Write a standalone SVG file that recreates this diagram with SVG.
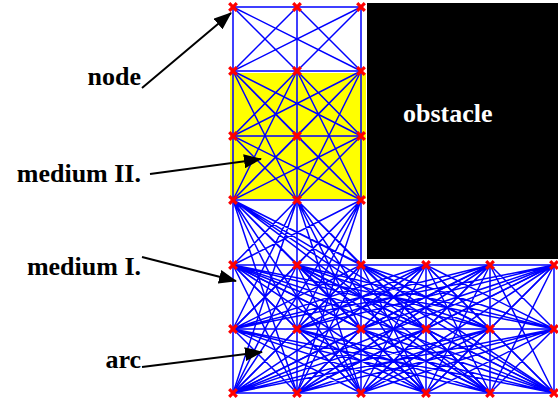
<svg xmlns="http://www.w3.org/2000/svg" xmlns:xlink="http://www.w3.org/1999/xlink" width="558" height="403" viewBox="0 0 558 403">
<style>
.edge{fill:none;stroke:#0000ff;stroke-width:1.5}
.mk{fill:none;stroke:#ff0000;stroke-width:3.2}
.lbl{font-family:'Liberation Serif','Times New Roman',serif;font-weight:bold;font-size:26px;fill:#000}
.arrow{fill:none;stroke:#000;stroke-width:2}
</style>
<defs>
<path id="x" class="mk" d="M-3.8 -3.8L3.8 3.8M3.8 -3.8L-3.8 3.8"/>
<marker id="ah" markerUnits="userSpaceOnUse" markerWidth="18" markerHeight="14" refX="17" refY="7" orient="auto">
<path d="M0 0L18 7L0 14z" fill="#000"/>
</marker>
</defs>
<rect width="558" height="403" fill="#fff"/>
<g id="mediumII-area"><rect x="230" y="73" width="136" height="126" fill="#ffff00"/></g>
<g id="obstacle"><rect x="367" y="3" width="191" height="256" fill="#000"/></g>
<g id="connectors">
<path class="edge" d="M233 7V393M297 7V393M361 7V393M426 265V393M490 265V393M554 265V393M233 7H361M233 71H361M233 136H361M233 200H361M233 265H554M233 329H554M233 393H554"/>
<path class="edge" d="M233 7 297 71M233 7 361 71M297 7 233 71M297 7 361 71M361 7 233 71M361 7 297 71"/>
<path class="edge" d="M233 71 297 136M233 71 361 136M297 71 233 136M297 71 361 136M361 71 233 136M361 71 297 136M233 71 297 200M233 71 361 200M297 71 233 200M297 71 361 200M361 71 233 200M361 71 297 200M233 136 297 200M233 136 361 200M297 136 233 200M297 136 361 200M361 136 233 200M361 136 297 200"/>
<path class="edge" d="M233 200 297 265M233 200 361 265M233 200 297 329M233 200 361 329M233 200 426 329M233 200 490 329M233 200 297 393M233 200 361 393M233 200 426 393M233 200 490 393M233 200 554 393M297 200 233 265M297 200 361 265M297 200 233 329M297 200 361 329M297 200 426 329M297 200 233 393M297 200 361 393M297 200 426 393M297 200 490 393M361 200 233 265M361 200 297 265M361 200 233 329M361 200 297 329M361 200 233 393M361 200 297 393"/>
<path class="edge" d="M233 265 297 329M233 265 361 329M233 265 426 329M233 265 490 329M233 265 554 329M297 265 233 329M297 265 361 329M297 265 426 329M297 265 490 329M297 265 554 329M361 265 233 329M361 265 297 329M361 265 426 329M361 265 490 329M361 265 554 329M426 265 233 329M426 265 297 329M426 265 361 329M426 265 490 329M426 265 554 329M490 265 233 329M490 265 297 329M490 265 361 329M490 265 426 329M490 265 554 329M554 265 233 329M554 265 297 329M554 265 361 329M554 265 426 329M554 265 490 329"/>
<path class="edge" d="M233 265 297 393M233 265 361 393M233 265 426 393M233 265 490 393M233 265 554 393M297 265 233 393M297 265 361 393M297 265 426 393M297 265 490 393M297 265 554 393M361 265 233 393M361 265 297 393M361 265 426 393M361 265 490 393M361 265 554 393M426 265 233 393M426 265 297 393M426 265 361 393M426 265 490 393M426 265 554 393M490 265 233 393M490 265 297 393M490 265 361 393M490 265 426 393M490 265 554 393M554 265 233 393M554 265 297 393M554 265 361 393M554 265 426 393M554 265 490 393"/>
<path class="edge" d="M233 329 297 393M233 329 361 393M233 329 426 393M233 329 490 393M233 329 554 393M297 329 233 393M297 329 361 393M297 329 426 393M297 329 490 393M297 329 554 393M361 329 233 393M361 329 297 393M361 329 426 393M361 329 490 393M361 329 554 393M426 329 233 393M426 329 297 393M426 329 361 393M426 329 490 393M426 329 554 393M490 329 233 393M490 329 297 393M490 329 361 393M490 329 426 393M490 329 554 393M554 329 233 393M554 329 297 393M554 329 361 393M554 329 426 393M554 329 490 393"/>
</g>
<g id="nodes">
<g id="n0-0"><use xlink:href="#x" x="233" y="7"/></g>
<g id="n0-1"><use xlink:href="#x" x="297" y="7"/></g>
<g id="n0-2"><use xlink:href="#x" x="361" y="7"/></g>
<g id="n1-0"><use xlink:href="#x" x="233" y="71"/></g>
<g id="n1-1"><use xlink:href="#x" x="297" y="71"/></g>
<g id="n1-2"><use xlink:href="#x" x="361" y="71"/></g>
<g id="n2-0"><use xlink:href="#x" x="233" y="136"/></g>
<g id="n2-1"><use xlink:href="#x" x="297" y="136"/></g>
<g id="n2-2"><use xlink:href="#x" x="361" y="136"/></g>
<g id="n3-0"><use xlink:href="#x" x="233" y="200"/></g>
<g id="n3-1"><use xlink:href="#x" x="297" y="200"/></g>
<g id="n3-2"><use xlink:href="#x" x="361" y="200"/></g>
<g id="n4-0"><use xlink:href="#x" x="233" y="265"/></g>
<g id="n4-1"><use xlink:href="#x" x="297" y="265"/></g>
<g id="n4-2"><use xlink:href="#x" x="361" y="265"/></g>
<g id="n4-3"><use xlink:href="#x" x="426" y="265"/></g>
<g id="n4-4"><use xlink:href="#x" x="490" y="265"/></g>
<g id="n4-5"><use xlink:href="#x" x="554" y="265"/></g>
<g id="n5-0"><use xlink:href="#x" x="233" y="329"/></g>
<g id="n5-1"><use xlink:href="#x" x="297" y="329"/></g>
<g id="n5-2"><use xlink:href="#x" x="361" y="329"/></g>
<g id="n5-3"><use xlink:href="#x" x="426" y="329"/></g>
<g id="n5-4"><use xlink:href="#x" x="490" y="329"/></g>
<g id="n5-5"><use xlink:href="#x" x="554" y="329"/></g>
<g id="n6-0"><use xlink:href="#x" x="233" y="393"/></g>
<g id="n6-1"><use xlink:href="#x" x="297" y="393"/></g>
<g id="n6-2"><use xlink:href="#x" x="361" y="393"/></g>
<g id="n6-3"><use xlink:href="#x" x="426" y="393"/></g>
<g id="n6-4"><use xlink:href="#x" x="490" y="393"/></g>
<g id="n6-5"><use xlink:href="#x" x="554" y="393"/></g>
</g>
<g id="labels">
<g id="label-node"><text class="lbl" x="141" y="85" text-anchor="end">node</text></g>
<g id="label-medium2"><text class="lbl" x="141" y="182" text-anchor="end">medium II.</text></g>
<g id="label-medium1"><text class="lbl" x="141" y="275" text-anchor="end">medium I.</text></g>
<g id="label-arc"><text class="lbl" x="141" y="368" text-anchor="end">arc</text></g>
<g id="label-obstacle"><text class="lbl" x="403" y="122" style="fill:#fff">obstacle</text></g>
</g>
<g id="arrows">
<path class="arrow" d="M142 88L231 13" marker-end="url(#ah)"/>
<path class="arrow" d="M150 174L261 159" marker-end="url(#ah)"/>
<path class="arrow" d="M142 257L236 281" marker-end="url(#ah)"/>
<path class="arrow" d="M142 367L262 352" marker-end="url(#ah)"/>
</g>
</svg>
